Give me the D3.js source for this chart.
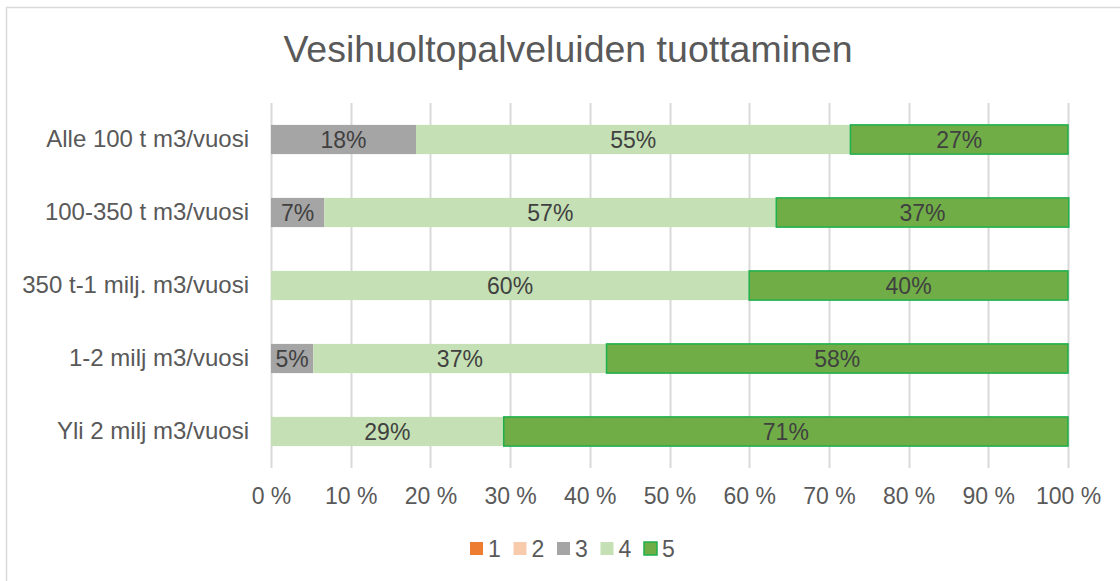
<!DOCTYPE html>
<html lang="fi">
  <head>
    <meta charset="utf-8" />
    <title>Vesihuoltopalveluiden tuottaminen</title>
    <script src="https://cdn.jsdelivr.net/npm/d3@7"></script>
    <style>
      body { margin: 0; background: #fff; }
      text { font-family: "Liberation Sans", Arial, sans-serif; }
    </style>
  </head>
  <body>
    <script>
      var w = 1120;
      var h = 581;

      // data
      var categories = [
        "Alle 100 t m3/vuosi",
        "100-350 t m3/vuosi",
        "350 t-1 milj. m3/vuosi",
        "1-2 milj m3/vuosi",
        "Yli 2 milj m3/vuosi"
      ];
      var seriesNames = ["1", "2", "3", "4", "5"];
      var s1 = [0, 0, 0, 0, 0];
      var s2 = [0, 0, 0, 0, 0];
      var s3 = [18.2, 6.7, 0, 5.3, 0];
      var s4 = [54.5, 56.7, 60, 36.8, 29.2];
      var s5 = [27.3, 36.7, 40, 57.9, 70.8];
      var xTicks = [0, 10, 20, 30, 40, 50, 60, 70, 80, 90, 100];

      var colors = ["#ED7D31", "#F8CBAD", "#A5A5A5", "#C5E0B4", "#70AD47"];
      var strokes = [null, null, null, null, "#1DB04C"];

      var table = categories.map(function (c, i) {
        return { cat: c, "1": s1[i], "2": s2[i], "3": s3[i], "4": s4[i], "5": s5[i] };
      });
      var stacked = d3.stack().keys(seriesNames)(table);

      var pLeft = 271, pRight = 1068, pTop = 103, pBottom = 468;

      var svg = d3.select("body").append("svg")
        .attr("width", w)
        .attr("height", h);

      // chart border
      svg.append("rect")
        .attr("x", 6.5).attr("y", 7.5)
        .attr("width", w + 10).attr("height", h + 10)
        .attr("fill", "#fff")
        .attr("stroke", "#D9D9D9")
        .attr("stroke-width", 1.5);

      var x = d3.scaleLinear().domain([0, 100]).range([pLeft, pRight]);
      var y = d3.scaleBand().domain(categories).range([pTop, pBottom]).paddingInner(0.6).paddingOuter(0.3);

      // title
      svg.append("text")
        .attr("x", 568).attr("y", 62)
        .attr("text-anchor", "middle")
        .attr("font-size", "37.5px")
        .attr("fill", "#595959")
        .text("Vesihuoltopalveluiden tuottaminen");

      // gridlines
      svg.append("g").selectAll("line")
        .data(xTicks)
        .enter().append("line")
        .attr("x1", function (d) { return Math.round(x(d)) + 0.5; })
        .attr("x2", function (d) { return Math.round(x(d)) + 0.5; })
        .attr("y1", pTop).attr("y2", pBottom)
        .attr("stroke", "#D9D9D9")
        .attr("stroke-width", 2);

      // x axis
      var xAxis = svg.append("g")
        .attr("transform", "translate(0," + pBottom + ")")
        .call(d3.axisBottom(x).tickValues(xTicks).tickSize(0).tickPadding(20)
          .tickFormat(function (d) { return d + " %"; }));
      xAxis.select(".domain").remove();
      xAxis.selectAll("text")
        .attr("font-size", "23px")
        .attr("fill", "#595959")
        .style("font-family", "'Liberation Sans', Arial, sans-serif");

      // y axis
      var yAxis = svg.append("g")
        .attr("transform", "translate(" + pLeft + ",0)")
        .call(d3.axisLeft(y).tickSize(0).tickPadding(22));
      yAxis.select(".domain").remove();
      yAxis.selectAll("text")
        .attr("font-size", "24px")
        .attr("fill", "#595959")
        .style("font-family", "'Liberation Sans', Arial, sans-serif");

      // bars
      var groups = svg.append("g").selectAll("g")
        .data(stacked)
        .enter().append("g");

      groups.selectAll("rect")
        .data(function (s) { return s.filter(function (d) { return d[1] - d[0] > 0; }).map(function (d) { d.key = s.key; return d; }); })
        .enter().append("rect")
        .attr("x", function (d) { return x(d[0]); })
        .attr("y", function (d) { return y(d.data.cat); })
        .attr("width", function (d) { return x(d[1]) - x(d[0]); })
        .attr("height", y.bandwidth())
        .attr("fill", function (d) { return colors[seriesNames.indexOf(d.key)]; })
        .attr("stroke", function (d) { return strokes[seriesNames.indexOf(d.key)] || "none"; })
        .attr("stroke-width", 1.5);

      // data labels
      groups.selectAll("text")
        .data(function (s) { return s.filter(function (d) { return d[1] - d[0] > 0; }); })
        .enter().append("text")
        .attr("x", function (d) { return (x(d[0]) + x(d[1])) / 2; })
        .attr("y", function (d) { return y(d.data.cat) + y.bandwidth() / 2 + 8; })
        .attr("text-anchor", "middle")
        .attr("font-size", "23px")
        .attr("fill", "#404040")
        .text(function (d) { return Math.round(d[1] - d[0]) + "%"; });

      // legend
      var legend = svg.append("g").selectAll("g")
        .data(seriesNames)
        .enter().append("g")
        .attr("transform", function (d, i) { return "translate(" + (470 + i * 43.5) + ",542)"; });
      legend.append("rect")
        .attr("width", 13).attr("height", 13)
        .attr("fill", function (d, i) { return colors[i]; })
        .attr("stroke", function (d, i) { return strokes[i] || "none"; })
        .attr("stroke-width", 1.5);
      legend.append("text")
        .attr("x", 18).attr("y", 15)
        .attr("font-size", "23px")
        .attr("fill", "#595959")
        .text(function (d) { return d; });
    </script>
  </body>
</html>
